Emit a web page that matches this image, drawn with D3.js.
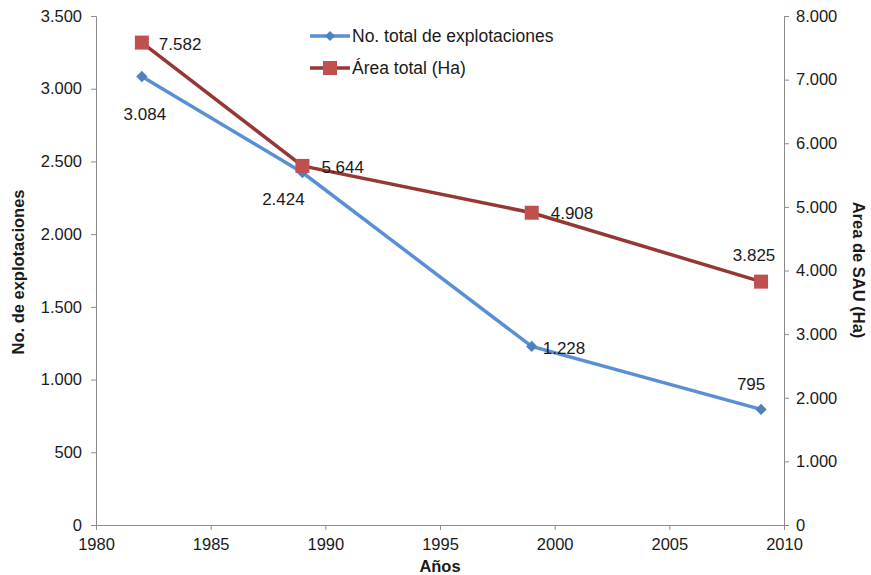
<!DOCTYPE html>
<html>
<head>
<meta charset="utf-8">
<script src="https://cdn.jsdelivr.net/npm/d3@7"></script>
<style>
  body { margin: 0; background: #fff; }
  text { font-family: "Liberation Sans", Arial, sans-serif; fill: #1a1a1a; }
  .axis path, .axis line { stroke: #8c8c8c; }
</style>
</head>
<body>
<svg id="chart"></svg>
<script>
// data
var years = [1982, 1989, 1999, 2009];
var explotaciones = [3084, 2424, 1228, 795];
var area = [7582, 5644, 4908, 3825];
var seriesNames = ["No. total de explotaciones", "Área total (Ha)"];

var width = 871, height = 575;
var margin = {top: 16, right: 87, bottom: 50, left: 96};

var svg = d3.select("#chart").attr("width", width).attr("height", height);

var x = d3.scaleLinear().domain([1980, 2010]).range([margin.left, width - margin.right]);
var yL = d3.scaleLinear().domain([0, 3500]).range([height - margin.bottom, margin.top]);
var yR = d3.scaleLinear().domain([0, 8000]).range([height - margin.bottom, margin.top]);

var fmt = function(v) { return d3.format(",")(v).replace(/,/g, "."); };

// axes
var gx = svg.append("g").attr("class", "axis")
  .attr("transform", "translate(0," + (height - margin.bottom) + ")")
  .call(d3.axisBottom(x).tickValues(d3.range(1980, 2011, 5)).tickFormat(d3.format("d")).tickSize(5).tickSizeOuter(0));
gx.selectAll("text").style("font-size", "16.5px").attr("dy", "1.05em");

var gl = svg.append("g").attr("class", "axis")
  .attr("transform", "translate(" + margin.left + ",0)")
  .call(d3.axisLeft(yL).tickValues(d3.range(0, 3501, 500)).tickFormat(fmt).tickSize(5).tickSizeOuter(5));
gl.selectAll("text").style("font-size", "16.5px").attr("x", -14);

var gr = svg.append("g").attr("class", "axis")
  .attr("transform", "translate(" + (width - margin.right) + ",0)")
  .call(d3.axisRight(yR).tickValues(d3.range(0, 8001, 1000)).tickFormat(fmt).tickSize(5).tickSizeOuter(5));
gr.selectAll("text").style("font-size", "16.5px").attr("x", 12);
svg.selectAll(".axis .domain").attr("stroke", "#8c8c8c");

// axis titles
svg.append("text")
  .attr("transform", "translate(24," + 272 + ") rotate(-90)")
  .attr("text-anchor", "middle").style("font-size", "16.5px").style("font-weight", "bold")
  .text("No. de explotaciones");
svg.append("text")
  .attr("transform", "translate(853," + 270 + ") rotate(90)")
  .attr("text-anchor", "middle").style("font-size", "16.5px").style("font-weight", "bold")
  .text("Area de SAU (Ha)");
svg.append("text")
  .attr("x", (margin.left + width - margin.right) / 2).attr("y", 572)
  .attr("text-anchor", "middle").style("font-size", "16.5px").style("font-weight", "bold")
  .text("Años");

// lines
var blueLine = "#5a8fd6", blueMark = "#4f81bd";
var redLine = "#953735", redMark = "#c0504d";

var lineL = d3.line().x(function(d, i) { return x(years[i]); }).y(function(d) { return yL(d); });
var lineR = d3.line().x(function(d, i) { return x(years[i]); }).y(function(d) { return yR(d); });

svg.append("path").datum(area).attr("d", lineR)
  .attr("fill", "none").attr("stroke", redLine).attr("stroke-width", 3.5);
svg.append("path").datum(explotaciones).attr("d", lineL)
  .attr("fill", "none").attr("stroke", blueLine).attr("stroke-width", 3.5);

svg.selectAll(".mb").data(explotaciones).enter().append("path")
  .attr("d", d3.symbol().type(d3.symbolSquare).size(64))
  .attr("transform", function(d, i) { return "translate(" + x(years[i]) + "," + yL(d) + ") rotate(45)"; })
  .attr("fill", blueMark);
svg.selectAll(".mr").data(area).enter().append("rect")
  .attr("x", function(d, i) { return x(years[i]) - 7; })
  .attr("y", function(d) { return yR(d) - 7; })
  .attr("width", 14).attr("height", 14)
  .attr("fill", redMark);

// data labels
var blueOff = [[3, 44, "middle"], [-19, 33, "middle"], [11, 8, "start"], [-10, -19, "middle"]];
var redOff = [[17, 7, "start"], [19, 7, "start"], [19, 6, "start"], [-7, -21, "middle"]];
svg.selectAll(".lb").data(explotaciones).enter().append("text")
  .attr("x", function(d, i) { return x(years[i]) + blueOff[i][0]; })
  .attr("y", function(d, i) { return yL(d) + blueOff[i][1]; })
  .attr("text-anchor", function(d, i) { return blueOff[i][2]; })
  .style("font-size", "17px").text(fmt);
svg.selectAll(".lr").data(area).enter().append("text")
  .attr("x", function(d, i) { return x(years[i]) + redOff[i][0]; })
  .attr("y", function(d, i) { return yR(d) + redOff[i][1]; })
  .attr("text-anchor", function(d, i) { return redOff[i][2]; })
  .style("font-size", "17px").text(fmt);

// legend
var leg = svg.append("g");
[[blueLine, blueMark, "d"], [redLine, redMark, "s"]].forEach(function(s, i) {
  var ly = 36 + i * 32;
  leg.append("line").attr("x1", 310).attr("x2", 350).attr("y1", ly).attr("y2", ly)
    .attr("stroke", s[0]).attr("stroke-width", 3.5);
  if (s[2] === "d") {
    leg.append("path").attr("d", d3.symbol().type(d3.symbolSquare).size(50))
      .attr("transform", "translate(330," + ly + ") rotate(45)").attr("fill", s[1]);
  } else {
    leg.append("rect").attr("x", 323).attr("y", ly - 7).attr("width", 14).attr("height", 14).attr("fill", s[1]);
  }
  leg.append("text").attr("x", 352).attr("y", ly + 6).style("font-size", "17.5px").text(seriesNames[i]);
});
</script>
</body>
</html>
